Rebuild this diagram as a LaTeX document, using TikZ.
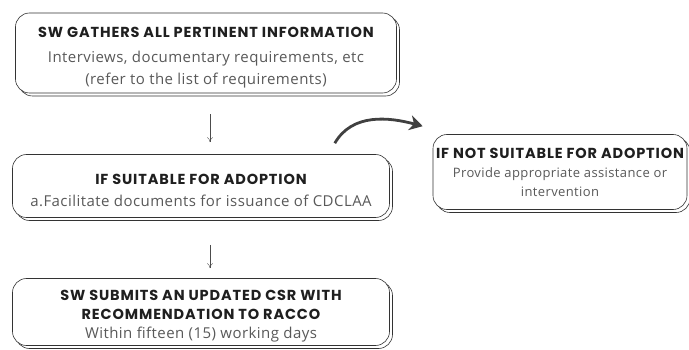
\documentclass[tikz,border=0pt]{standalone}
\usepackage{fontspec}
\setmainfont[LetterSpace=3]{Open Sans}
\newfontfamily\headfont[LetterSpace=6]{Poppins}
\newcommand\hd[1]{{\headfont\bfseries\color{black!88}\fontsize{14.5}{20}\selectfont #1}}
\newcommand\lift{\rule{0pt}{19pt}}
\usetikzlibrary{arrows.meta,shadows,positioning}

\begin{document}
\begin{tikzpicture}[x=1pt,y=-1pt,
    stepbox/.style={draw=black!80,semithick,rounded corners=14pt,fill=white,align=center,
        inner sep=0pt,text=black!65,font=\fontsize{15}{22}\selectfont,
        copy shadow={shadow xshift=3pt,shadow yshift=-3pt,draw=black!80,fill=white}},
    down/.style={-{To[length=5pt,width=6pt]},black!70}
]
\useasboundingbox (0,0) rectangle (689,350);

\node[stepbox,minimum width=381pt,minimum height=80pt] (gather) at (206,53)
    {\lift\hd{SW GATHERS ALL PERTINENT INFORMATION}\\[3pt]
     Interviews, documentary requirements, etc\\
     (refer to the list of requirements)};
\node[stepbox,minimum width=377pt,minimum height=63pt] (suitable) at (201,186)
    {\lift\hd{IF SUITABLE FOR ADOPTION}\\
     a.Facilitate documents for issuance of CDCLAA};
\node[stepbox,minimum width=377pt,minimum height=67pt] (submit) at (201,312)
    {\lift\hd{SW SUBMITS AN UPDATED CSR WITH}\\[-3pt]
     \hd{RECOMMENDATION TO RACCO}\\[-3pt]
     Within fifteen (15) working days};
\node[stepbox,minimum width=254pt,minimum height=75pt,font=\fontsize{13}{19}\selectfont] (notsuit) at (560,172)
    {\hd{IF NOT SUITABLE FOR ADOPTION}\\
     Provide appropriate assistance or\\
     intervention};

\draw[down,shorten <=21pt,shorten >=12pt]
    ([xshift=4pt]gather.south) -- ([xshift=4pt]gather.south |- suitable.north);
\draw[down,shorten <=27pt,shorten >=10pt]
    ([xshift=9pt]suitable.south) -- ([xshift=9pt]suitable.south |- submit.north);
\draw[black!75,line width=2.8pt,-{Stealth[length=13pt,width=15pt,inset=4pt]}]
    ([xshift=-55pt,yshift=11pt]suitable.north east) to[out=60,in=165] ([xshift=-10pt,yshift=8pt]notsuit.north west);
\end{tikzpicture}
\end{document}
